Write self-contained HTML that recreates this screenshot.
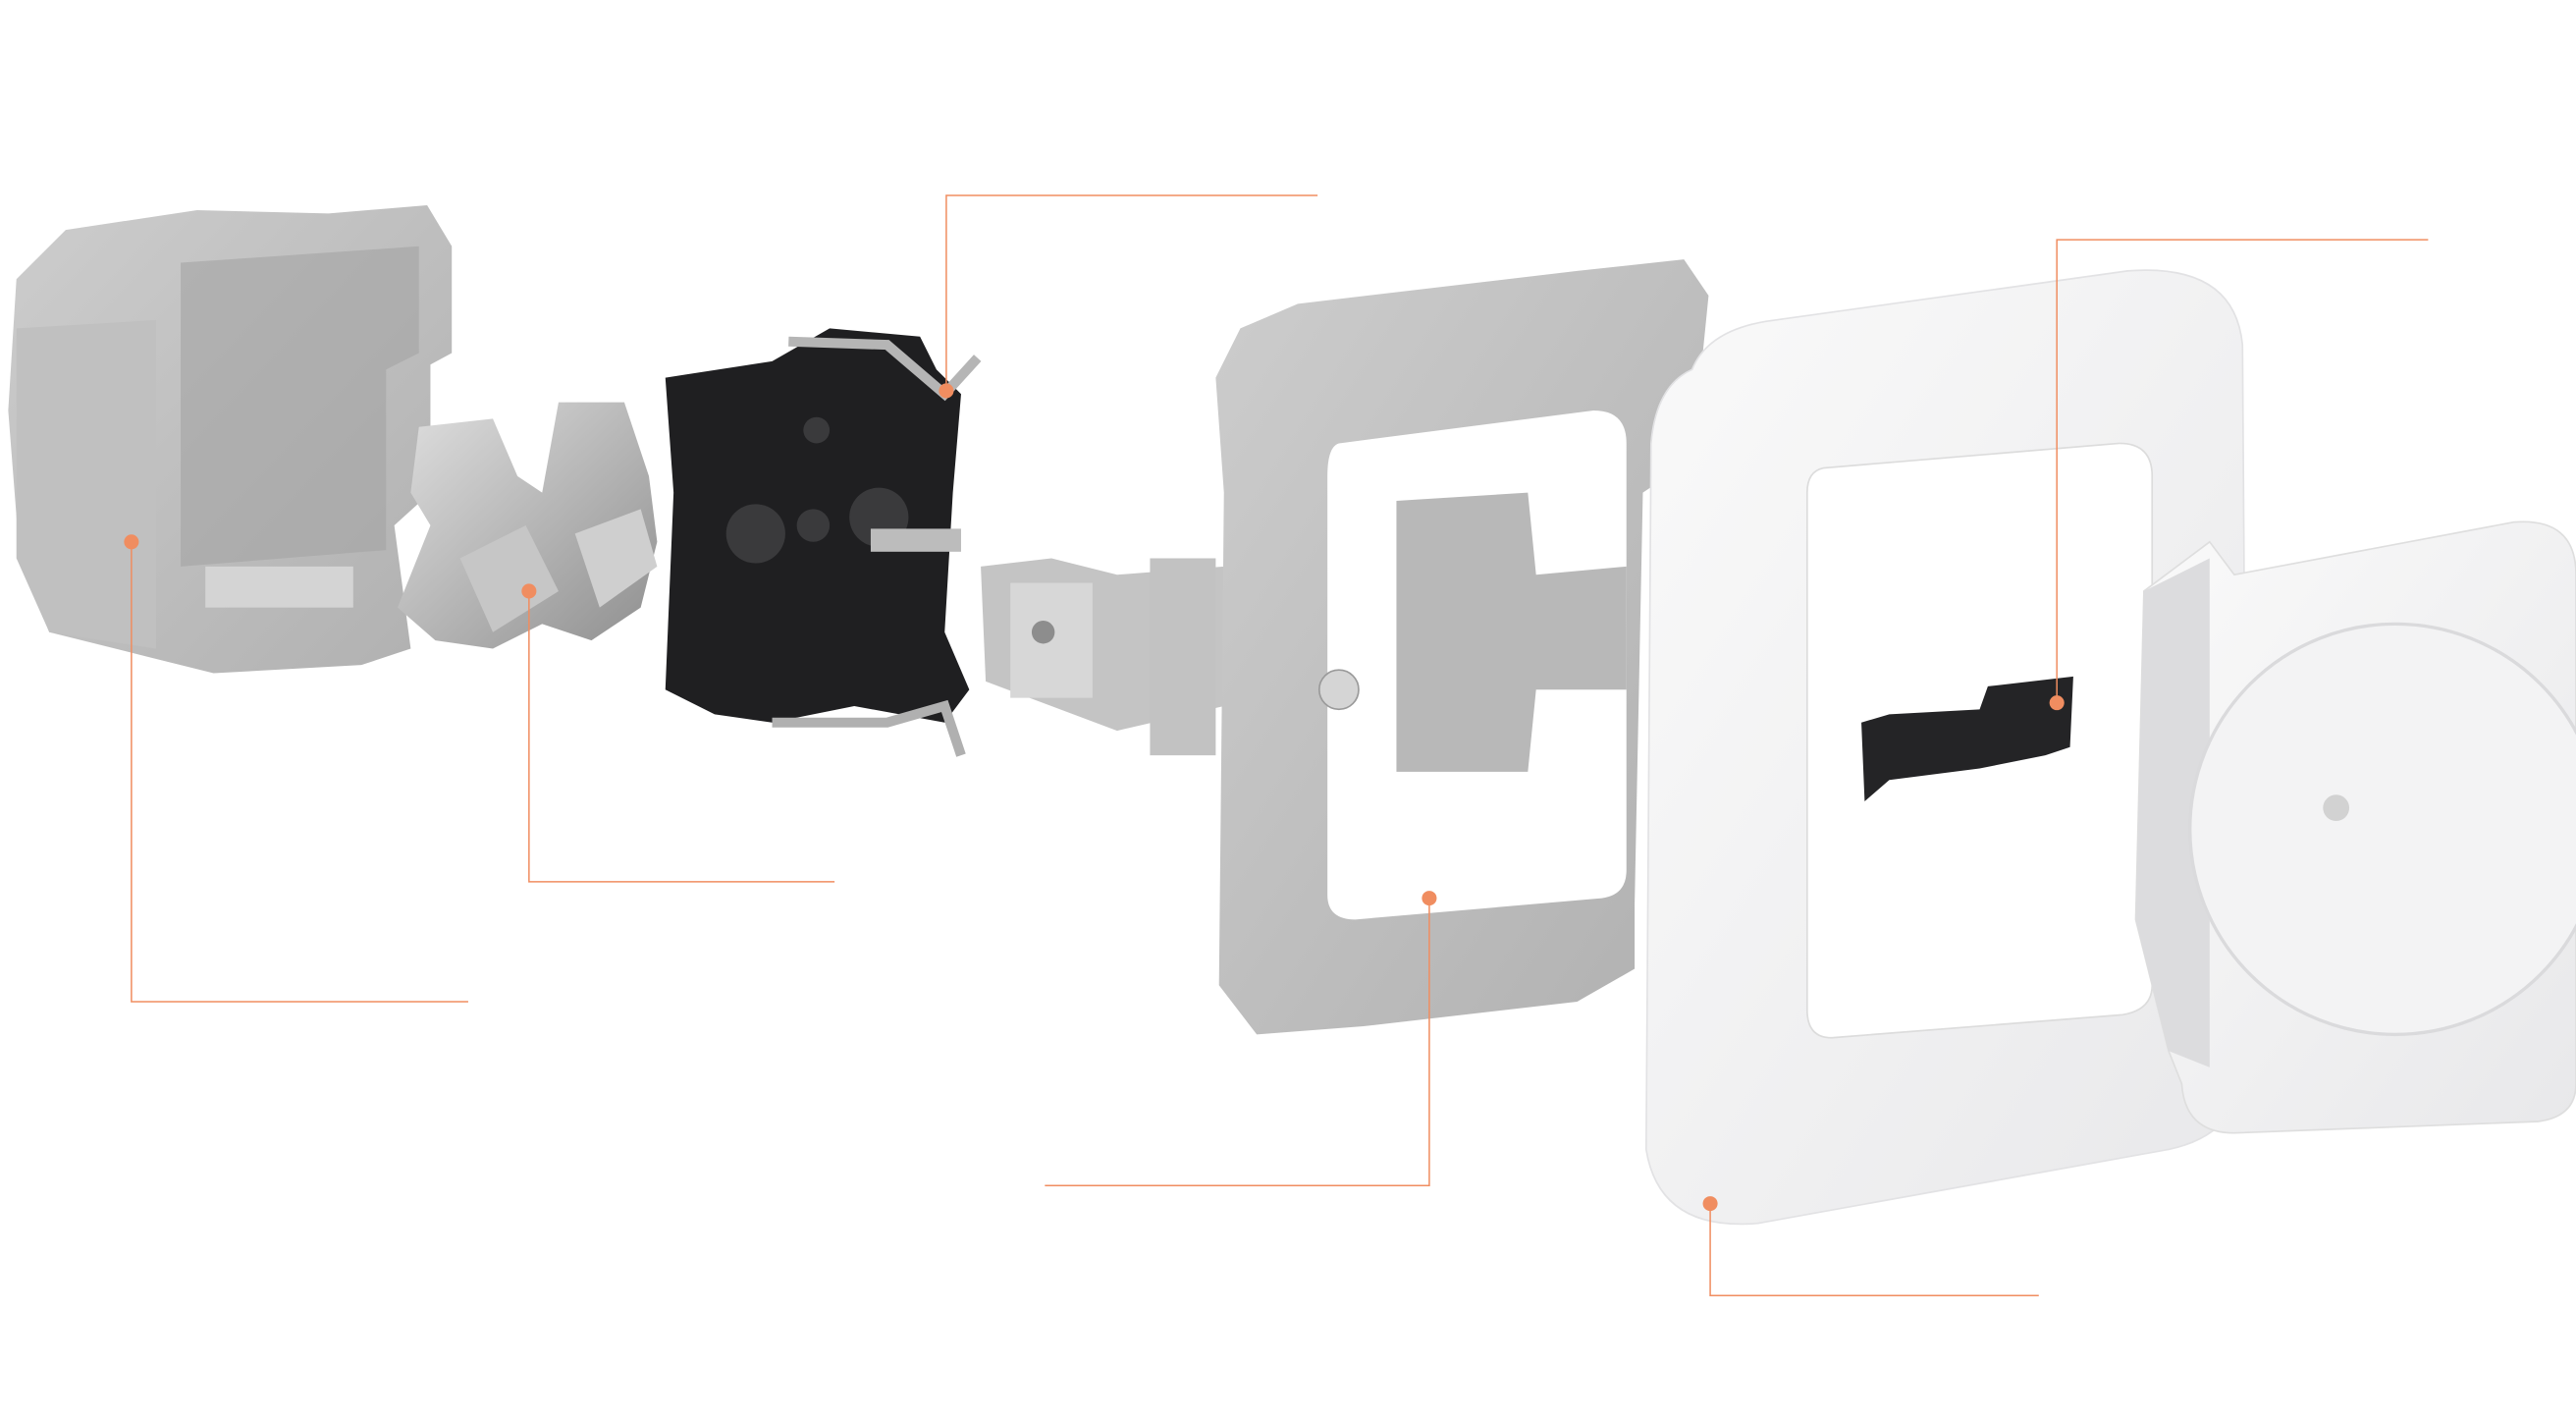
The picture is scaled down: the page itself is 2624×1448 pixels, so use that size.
<!DOCTYPE html>
<html><head><meta charset="utf-8"><style>
html,body{margin:0;padding:0;background:#fff;}
svg{display:block}
</style></head><body>
<svg width="2624" height="1448" viewBox="0 0 1568 866" preserveAspectRatio="none" xmlns="http://www.w3.org/2000/svg">
<defs>
<linearGradient id="g1" x1="0" y1="0" x2="1" y2="1"><stop offset="0" stop-color="#cdcdcd"/><stop offset="1" stop-color="#b0b0b0"/></linearGradient>
<linearGradient id="w1" x1="0" y1="0" x2="1" y2="1"><stop offset="0" stop-color="#fafafa"/><stop offset="1" stop-color="#e8e8ea"/></linearGradient>
<linearGradient id="m1" x1="0" y1="0" x2="1" y2="1"><stop offset="0" stop-color="#e0e0e0"/><stop offset="1" stop-color="#8e8e8e"/></linearGradient>
</defs>
<!-- left gray box -->
<path d="M10,170 L40,140 L120,128 L200,130 L260,125 L275,150 L275,215 L262,222 L262,300 L240,320 L250,395 L220,405 L130,410 L90,400 L30,385 L12,340 L5,250 Z" fill="url(#g1)"/>
<path d="M110,160 L255,150 L255,215 L235,225 L235,335 L110,345 Z" fill="#a4a4a4" opacity="0.6"/>
<rect x="125" y="345" width="90" height="25" fill="#d4d4d4"/>
<path d="M10,200 L95,195 L95,395 L30,385 L10,340 Z" fill="#c0c0c0"/>
<!-- metal contacts -->
<path d="M255,260 L300,255 L315,290 L330,300 L340,245 L380,245 L395,290 L400,330 L390,370 L360,390 L330,380 L300,395 L265,390 L242,370 L262,320 L250,300 Z" fill="url(#m1)"/>
<path d="M280,340 L320,320 L340,360 L300,385 Z" fill="#c6c6c6"/>
<path d="M350,325 L390,310 L400,345 L365,370 Z" fill="#cfcfcf"/>
<!-- black base -->
<path d="M405,230 L470,220 L505,200 L560,205 L570,225 L585,240 L580,300 L575,385 L590,420 L575,440 L520,430 L470,440 L435,435 L405,420 L410,300 Z" fill="#1f1f21"/>
<circle cx="460" cy="325" r="18" fill="#3a3a3c"/><circle cx="495" cy="320" r="10" fill="#3a3a3c"/><circle cx="535" cy="315" r="18" fill="#3a3a3c"/>
<circle cx="497" cy="262" r="8" fill="#3a3a3c"/>
<path d="M480,208 L540,210 L575,240 L595,218" fill="none" stroke="#b5b5b5" stroke-width="6"/>
<path d="M470,440 L540,440 L575,430 L585,460" fill="none" stroke="#b0b0b0" stroke-width="6"/>
<rect x="530" y="322" width="55" height="14" fill="#bcbcbc"/>
<!-- metal clip -->
<path d="M597,345 L640,340 L680,350 L745,345 L745,430 L680,445 L640,430 L600,415 Z" fill="#c4c4c4"/>
<rect x="615" y="355" width="50" height="70" fill="#d7d7d7"/>
<circle cx="635" cy="385" r="7" fill="#8d8d8d"/>
<!-- gray frame -->
<path d="M755,200 L790,185 L960,165 L1025,158 L1040,180 L1030,280 L1000,300 L995,550 L995,590 L960,610 L830,625 L765,630 L742,600 L745,300 L740,230 Z" fill="url(#g1)"/>
<path d="M815,270 L970,250 Q990,250 990,270 L990,530 Q990,545 975,547 L825,560 Q808,560 808,545 L808,290 Q808,272 815,270 Z" fill="#fff"/>
<path d="M850,305 L930,300 L935,350 L990,345 L990,420 L935,420 L930,470 L850,470 Z" fill="#b8b8b8"/>
<rect x="700" y="340" width="40" height="120" fill="#c2c2c2"/>
<circle cx="815" cy="420" r="12" fill="#d5d5d5" stroke="#9a9a9a"/>
<!-- white cover frame -->
<path d="M1030,225 Q1040,200 1080,195 L1295,165 Q1360,160 1365,210 L1368,640 Q1368,690 1320,700 L1070,745 Q1010,750 1002,700 L1005,270 Q1008,235 1030,225 Z" fill="url(#w1)" stroke="#e2e2e4"/>
<path d="M1110,285 L1290,270 Q1310,270 1310,290 L1310,600 Q1310,615 1292,618 L1115,632 Q1100,632 1100,615 L1100,300 Q1100,287 1110,285 Z" fill="#fff" stroke="#dcdcdc"/>
<path d="M1133,440 L1150,435 L1205,432 L1210,418 L1262,412 L1260,455 L1245,460 L1205,468 L1150,475 L1135,488 Z" fill="#242426"/>
<!-- white socket -->
<path d="M1305,360 L1345,330 L1360,350 L1530,318 Q1568,315 1568,350 L1568,660 Q1568,680 1545,683 L1360,690 Q1330,690 1328,660 L1320,640 L1300,560 Z" fill="url(#w1)" stroke="#dedede"/>
<path d="M1305,360 L1345,340 L1345,650 L1320,640 L1300,560 Z" fill="#dcdcde"/>
<circle cx="1458" cy="505" r="125" fill="#f3f3f4" stroke="#dadadc" stroke-width="2"/>
<circle cx="1422" cy="492" r="8" fill="#d2d2d2"/>
<!-- leader lines -->
<g stroke="#f08d60" stroke-width="0.9" fill="none">
<polyline points="80,330 80,610 285,610"/>
<polyline points="322,360 322,537 508,537"/>
<polyline points="576,238 576,119 802,119"/>
<polyline points="870,547 870,722 636,722"/>
<polyline points="1252,428 1252,146 1478,146"/>
<polyline points="1041,733 1041,789 1241,789"/>
</g>
<g fill="#f08d60">
<circle cx="80" cy="330" r="4.5"/><circle cx="322" cy="360" r="4.5"/><circle cx="576" cy="238" r="4.5"/>
<circle cx="870" cy="547" r="4.5"/><circle cx="1252" cy="428" r="4.5"/><circle cx="1041" cy="733" r="4.5"/>
</g>
</svg>
</body></html>
